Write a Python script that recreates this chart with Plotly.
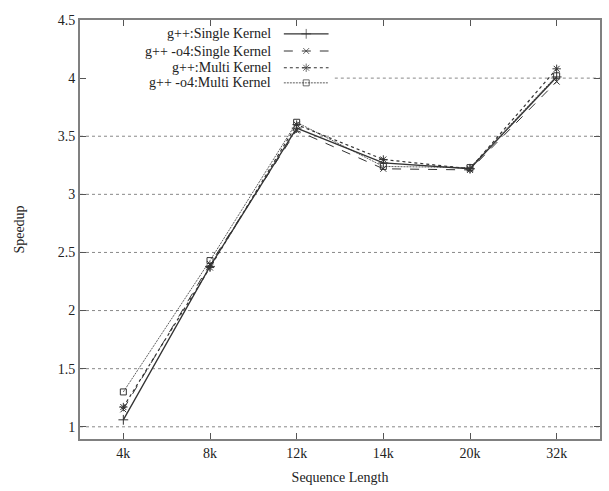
import plotly.graph_objects as go

categories = ["4k", "8k", "12k", "14k", "20k", "32k"]
single_gpp = [1.06, 2.38, 3.57, 3.27, 3.22, 4.01]
single_o4 = [1.15, 2.40, 3.55, 3.22, 3.21, 3.97]
multi_gpp = [1.17, 2.37, 3.60, 3.30, 3.22, 4.08]
multi_o4 = [1.30, 2.43, 3.62, 3.24, 3.23, 4.02]
series_names = ["g++:Single Kernel", "g++ -o4:Single Kernel",
                "g++:Multi Kernel", "g++ -o4:Multi Kernel"]
y_ticks = [1, 1.5, 2, 2.5, 3, 3.5, 4, 4.5]

FONT = "Liberation Serif, Times New Roman, serif"
LINE_COL = "#333333"
styles = [
    dict(dash="solid", width=1.3, symbol="cross-thin-open", size=7),
    dict(dash="dash", width=1.0, symbol="x-thin-open", size=6),
    dict(dash="dot", width=1.2, symbol="asterisk-open", size=7),
    dict(dash="2px,1px", width=0.8, symbol="square-open", size=6),
]
series = [single_gpp, single_o4, multi_gpp, multi_o4]
x_idx = list(range(len(categories)))

fig = go.Figure()
for name, vals, st in zip(series_names, series, styles):
    fig.add_trace(go.Scatter(
        x=x_idx, y=vals, mode="lines+markers", name=name, showlegend=False,
        line=dict(color=LINE_COL, width=st["width"], dash=st["dash"]),
        marker=dict(symbol=st["symbol"], size=st["size"],
                    color=LINE_COL, line=dict(color=LINE_COL, width=1)),
    ))

# manual gnuplot-style key (text right-aligned, sample on the right)
key_rows = [0.967, 0.926, 0.886, 0.850]
key_text_x = 0.372
key_x0, key_x1 = 0.392, 0.478
for name, st, ky in zip(series_names, styles, key_rows):
    fig.add_trace(go.Scatter(
        x=[key_x0, (key_x0 + key_x1) / 2, key_x1], y=[ky, ky, ky],
        xaxis="x2", yaxis="y2", mode="lines+markers", showlegend=False,
        hoverinfo="skip",
        line=dict(color=LINE_COL, width=st["width"], dash=st["dash"]),
        marker=dict(symbol=st["symbol"], size=[0, st["size"], 0],
                    color=LINE_COL, line=dict(color=LINE_COL, width=1)),
    ))
    fig.add_annotation(x=key_text_x, y=ky, xref="paper", yref="paper",
                       text=name, showarrow=False, xanchor="right",
                       yanchor="middle",
                       font=dict(family=FONT, size=14, color="#222"))

# dotted horizontal grid lines (the key area hides the left part of y=4)
for v in y_ticks[:-1]:
    fig.add_shape(type="line", xref="paper", yref="y",
                  x0=0.49 if v == 4 else 0.0, x1=1.0, y0=v, y1=v,
                  line=dict(color="#888", width=1, dash="dot"),
                  layer="below")

axis_common = dict(showline=True, linecolor="#808080", linewidth=1.8,
                   mirror="ticks", ticks="inside", ticklen=6,
                   tickcolor="#555", tickwidth=1,
                   tickfont=dict(family=FONT, size=14, color="#222"),
                   zeroline=False, showgrid=False)

fig.update_layout(
    width=609, height=491,
    margin=dict(l=80, r=7, t=20, b=52),
    paper_bgcolor="white", plot_bgcolor="white",
    font=dict(family=FONT, size=14, color="#222"),
    xaxis=dict(tickvals=x_idx, ticktext=categories, range=[-0.5, 5.5],
               title=dict(text="Sequence Length", standoff=12,
                          font=dict(family=FONT, size=14)),
               **axis_common),
    yaxis=dict(tickvals=y_ticks, ticktext=[f"{v:g}" for v in y_ticks],
               range=[0.895, 4.5],
               title=dict(text="Speedup", standoff=30,
                          font=dict(family=FONT, size=14)),
               **axis_common),
    xaxis2=dict(overlaying="x", range=[0, 1], visible=False),
    yaxis2=dict(overlaying="y", range=[0, 1], visible=False),
)

fig.write_html("out.html")
